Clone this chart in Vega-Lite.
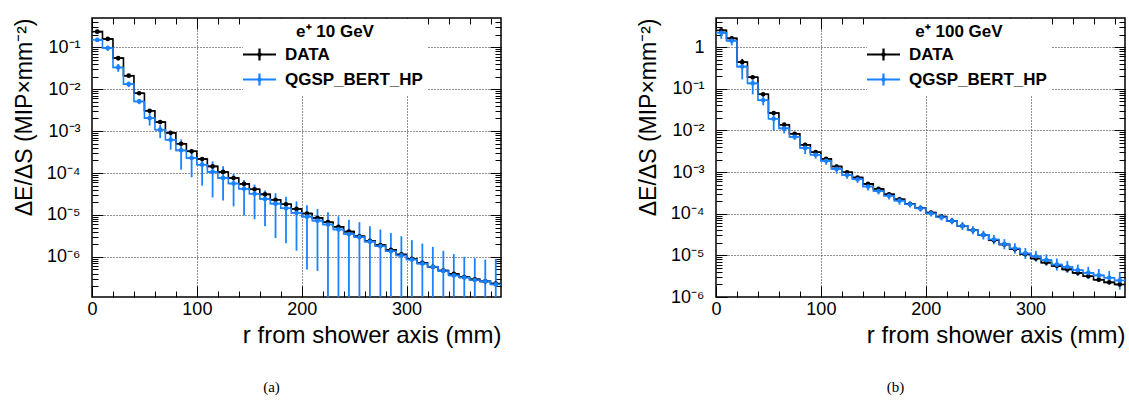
{
  "$schema": "https://vega.github.io/schema/vega-lite/v6.json",
  "padding": {"left": 12, "top": 12, "right": 0, "bottom": 0},
  "background": "white",
  "datasets": {
    "a": [
      {"s":"DATA","r":5,"r0":0,"r1":10,"v":0.236,"lo":0.218,"hi":0.254},
      {"s":"DATA","r":15,"r0":10,"r1":20,"v":0.158,"lo":0.147,"hi":0.169},
      {"s":"DATA","r":25,"r0":20,"r1":30,"v":0.055,"lo":0.049,"hi":0.061},
      {"s":"DATA","r":35,"r0":30,"r1":40,"v":0.021,"lo":0.0194,"hi":0.0226},
      {"s":"DATA","r":45,"r0":40,"r1":50,"v":0.008,"lo":0.0074,"hi":0.0086},
      {"s":"DATA","r":55,"r0":50,"r1":60,"v":0.00305,"lo":0.0028,"hi":0.0033},
      {"s":"DATA","r":65,"r0":60,"r1":70,"v":0.00164,"lo":0.00148,"hi":0.0018},
      {"s":"DATA","r":75,"r0":70,"r1":80,"v":0.00091,"lo":0.00084,"hi":0.00098},
      {"s":"DATA","r":85,"r0":80,"r1":90,"v":0.0005,"lo":0.00046,"hi":0.00054},
      {"s":"DATA","r":95,"r0":90,"r1":100,"v":0.00033,"lo":0.000305,"hi":0.000355},
      {"s":"DATA","r":105,"r0":100,"r1":110,"v":0.000215,"lo":0.0002,"hi":0.00023},
      {"s":"DATA","r":115,"r0":110,"r1":120,"v":0.000144,"lo":0.000134,"hi":0.000154},
      {"s":"DATA","r":125,"r0":120,"r1":130,"v":0.000106,"lo":0.000099,"hi":0.000113},
      {"s":"DATA","r":135,"r0":130,"r1":140,"v":7.6e-5,"lo":7.1e-5,"hi":8.1e-5},
      {"s":"DATA","r":145,"r0":140,"r1":150,"v":5.5e-5,"lo":5.15e-5,"hi":5.85e-5},
      {"s":"DATA","r":155,"r0":150,"r1":160,"v":4.1e-5,"lo":3.85e-5,"hi":4.35e-5},
      {"s":"DATA","r":165,"r0":160,"r1":170,"v":3.1e-5,"lo":2.9e-5,"hi":3.3e-5},
      {"s":"DATA","r":175,"r0":170,"r1":180,"v":2.3e-5,"lo":2.15e-5,"hi":2.45e-5},
      {"s":"DATA","r":185,"r0":180,"r1":190,"v":1.8e-5,"lo":1.69e-5,"hi":1.91e-5},
      {"s":"DATA","r":195,"r0":190,"r1":200,"v":1.39e-5,"lo":1.31e-5,"hi":1.47e-5},
      {"s":"DATA","r":205,"r0":200,"r1":210,"v":1.08e-5,"lo":1.02e-5,"hi":1.14e-5},
      {"s":"DATA","r":215,"r0":210,"r1":220,"v":8.5e-6,"lo":8.0e-6,"hi":9.0e-6},
      {"s":"DATA","r":225,"r0":220,"r1":230,"v":6.7e-6,"lo":6.3e-6,"hi":7.1e-6},
      {"s":"DATA","r":235,"r0":230,"r1":240,"v":5.2e-6,"lo":4.9e-6,"hi":5.5e-6},
      {"s":"DATA","r":245,"r0":240,"r1":250,"v":4.0e-6,"lo":3.77e-6,"hi":4.23e-6},
      {"s":"DATA","r":255,"r0":250,"r1":260,"v":3.1e-6,"lo":2.92e-6,"hi":3.28e-6},
      {"s":"DATA","r":265,"r0":260,"r1":270,"v":2.4e-6,"lo":2.26e-6,"hi":2.54e-6},
      {"s":"DATA","r":275,"r0":270,"r1":280,"v":1.9e-6,"lo":1.79e-6,"hi":2.01e-6},
      {"s":"DATA","r":285,"r0":280,"r1":290,"v":1.47e-6,"lo":1.38e-6,"hi":1.56e-6},
      {"s":"DATA","r":295,"r0":290,"r1":300,"v":1.14e-6,"lo":1.07e-6,"hi":1.21e-6},
      {"s":"DATA","r":305,"r0":300,"r1":310,"v":8.9e-7,"lo":8.4e-7,"hi":9.4e-7},
      {"s":"DATA","r":315,"r0":310,"r1":320,"v":7.2e-7,"lo":6.8e-7,"hi":7.6e-7},
      {"s":"DATA","r":325,"r0":320,"r1":330,"v":5.8e-7,"lo":5.45e-7,"hi":6.15e-7},
      {"s":"DATA","r":335,"r0":330,"r1":340,"v":4.7e-7,"lo":4.4e-7,"hi":5.0e-7},
      {"s":"DATA","r":345,"r0":340,"r1":350,"v":3.9e-7,"lo":3.65e-7,"hi":4.15e-7},
      {"s":"DATA","r":355,"r0":350,"r1":360,"v":3.3e-7,"lo":3.1e-7,"hi":3.5e-7},
      {"s":"DATA","r":365,"r0":360,"r1":370,"v":2.9e-7,"lo":2.72e-7,"hi":3.08e-7},
      {"s":"DATA","r":375,"r0":370,"r1":380,"v":2.6e-7,"lo":2.44e-7,"hi":2.76e-7},
      {"s":"DATA","r":385,"r0":380,"r1":390,"v":2.3e-7,"lo":2.16e-7,"hi":2.44e-7},
      {"s":"QGSP_BERT_HP","r":5,"r0":0,"r1":10,"v":0.15,"lo":0.135,"hi":0.167},
      {"s":"QGSP_BERT_HP","r":15,"r0":10,"r1":20,"v":0.096,"lo":0.082,"hi":0.11},
      {"s":"QGSP_BERT_HP","r":25,"r0":20,"r1":30,"v":0.033,"lo":0.026,"hi":0.04},
      {"s":"QGSP_BERT_HP","r":35,"r0":30,"r1":40,"v":0.0132,"lo":0.0112,"hi":0.0152},
      {"s":"QGSP_BERT_HP","r":45,"r0":40,"r1":50,"v":0.0051,"lo":0.0044,"hi":0.0058},
      {"s":"QGSP_BERT_HP","r":55,"r0":50,"r1":60,"v":0.00204,"lo":0.00135,"hi":0.0029},
      {"s":"QGSP_BERT_HP","r":65,"r0":60,"r1":70,"v":0.00108,"lo":0.00068,"hi":0.0014},
      {"s":"QGSP_BERT_HP","r":75,"r0":70,"r1":80,"v":0.00062,"lo":0.00036,"hi":0.001},
      {"s":"QGSP_BERT_HP","r":85,"r0":80,"r1":90,"v":0.000347,"lo":0.00012,"hi":0.00063},
      {"s":"QGSP_BERT_HP","r":95,"r0":90,"r1":100,"v":0.000228,"lo":7.9e-5,"hi":0.00036},
      {"s":"QGSP_BERT_HP","r":105,"r0":100,"r1":110,"v":0.000158,"lo":5.0e-5,"hi":0.00023},
      {"s":"QGSP_BERT_HP","r":115,"r0":110,"r1":120,"v":0.000106,"lo":2.6e-5,"hi":0.00019},
      {"s":"QGSP_BERT_HP","r":125,"r0":120,"r1":130,"v":7.6e-5,"lo":2.2e-5,"hi":0.000145},
      {"s":"QGSP_BERT_HP","r":135,"r0":130,"r1":140,"v":5.6e-5,"lo":1.6e-5,"hi":9.5e-5},
      {"s":"QGSP_BERT_HP","r":145,"r0":140,"r1":150,"v":4.2e-5,"lo":9.7e-6,"hi":6.8e-5},
      {"s":"QGSP_BERT_HP","r":155,"r0":150,"r1":160,"v":3.2e-5,"lo":7.9e-6,"hi":5.3e-5},
      {"s":"QGSP_BERT_HP","r":165,"r0":160,"r1":170,"v":2.4e-5,"lo":5.4e-6,"hi":3.8e-5},
      {"s":"QGSP_BERT_HP","r":175,"r0":170,"r1":180,"v":1.86e-5,"lo":2.8e-6,"hi":3.3e-5},
      {"s":"QGSP_BERT_HP","r":185,"r0":180,"r1":190,"v":1.44e-5,"lo":2.1e-6,"hi":2.7e-5},
      {"s":"QGSP_BERT_HP","r":195,"r0":190,"r1":200,"v":1.12e-5,"lo":1.4e-6,"hi":2.1e-5},
      {"s":"QGSP_BERT_HP","r":205,"r0":200,"r1":210,"v":9.1e-6,"lo":5.0e-7,"hi":1.7e-5},
      {"s":"QGSP_BERT_HP","r":215,"r0":210,"r1":220,"v":7.3e-6,"lo":4.6e-7,"hi":1.39e-5},
      {"s":"QGSP_BERT_HP","r":225,"r0":220,"r1":230,"v":5.9e-6,"lo":1e-9,"hi":1.16e-5},
      {"s":"QGSP_BERT_HP","r":235,"r0":230,"r1":240,"v":4.5e-6,"lo":1e-9,"hi":9.3e-6},
      {"s":"QGSP_BERT_HP","r":245,"r0":240,"r1":250,"v":3.5e-6,"lo":1e-9,"hi":7.7e-6},
      {"s":"QGSP_BERT_HP","r":255,"r0":250,"r1":260,"v":2.95e-6,"lo":1e-9,"hi":6.7e-6},
      {"s":"QGSP_BERT_HP","r":265,"r0":260,"r1":270,"v":2.3e-6,"lo":1e-9,"hi":5.4e-6},
      {"s":"QGSP_BERT_HP","r":275,"r0":270,"r1":280,"v":1.8e-6,"lo":1e-9,"hi":4.5e-6},
      {"s":"QGSP_BERT_HP","r":285,"r0":280,"r1":290,"v":1.36e-6,"lo":1e-9,"hi":3.7e-6},
      {"s":"QGSP_BERT_HP","r":295,"r0":290,"r1":300,"v":1.08e-6,"lo":1e-9,"hi":3.1e-6},
      {"s":"QGSP_BERT_HP","r":305,"r0":300,"r1":310,"v":8.6e-7,"lo":1e-9,"hi":2.5e-6},
      {"s":"QGSP_BERT_HP","r":315,"r0":310,"r1":320,"v":6.9e-7,"lo":1e-9,"hi":2.07e-6},
      {"s":"QGSP_BERT_HP","r":325,"r0":320,"r1":330,"v":5.8e-7,"lo":1e-9,"hi":1.73e-6},
      {"s":"QGSP_BERT_HP","r":335,"r0":330,"r1":340,"v":4.6e-7,"lo":1e-9,"hi":1.39e-6},
      {"s":"QGSP_BERT_HP","r":345,"r0":340,"r1":350,"v":3.6e-7,"lo":1e-9,"hi":1.16e-6},
      {"s":"QGSP_BERT_HP","r":355,"r0":350,"r1":360,"v":3.2e-7,"lo":1e-9,"hi":1.0e-6},
      {"s":"QGSP_BERT_HP","r":365,"r0":360,"r1":370,"v":2.8e-7,"lo":1e-9,"hi":9.3e-7},
      {"s":"QGSP_BERT_HP","r":375,"r0":370,"r1":380,"v":2.6e-7,"lo":1e-9,"hi":8.6e-7},
      {"s":"QGSP_BERT_HP","r":385,"r0":380,"r1":390,"v":2.2e-7,"lo":1e-9,"hi":8.9e-7}
    ],
    "b": [
      {"s":"DATA","r":5,"r0":0,"r1":10,"v":2.52,"lo":2.4,"hi":2.65},
      {"s":"DATA","r":15,"r0":10,"r1":20,"v":1.62,"lo":1.52,"hi":1.72},
      {"s":"DATA","r":25,"r0":20,"r1":30,"v":0.435,"lo":0.36,"hi":0.52},
      {"s":"DATA","r":35,"r0":30,"r1":40,"v":0.189,"lo":0.172,"hi":0.207},
      {"s":"DATA","r":45,"r0":40,"r1":50,"v":0.0737,"lo":0.068,"hi":0.08},
      {"s":"DATA","r":55,"r0":50,"r1":60,"v":0.0262,"lo":0.0235,"hi":0.029},
      {"s":"DATA","r":65,"r0":60,"r1":70,"v":0.0137,"lo":0.0127,"hi":0.0148},
      {"s":"DATA","r":75,"r0":70,"r1":80,"v":0.0083,"lo":0.0077,"hi":0.0089},
      {"s":"DATA","r":85,"r0":80,"r1":90,"v":0.00452,"lo":0.0042,"hi":0.0049},
      {"s":"DATA","r":95,"r0":90,"r1":100,"v":0.003,"lo":0.0028,"hi":0.0032},
      {"s":"DATA","r":105,"r0":100,"r1":110,"v":0.00208,"lo":0.00195,"hi":0.00222},
      {"s":"DATA","r":115,"r0":110,"r1":120,"v":0.00136,"lo":0.00127,"hi":0.00145},
      {"s":"DATA","r":125,"r0":120,"r1":130,"v":0.00099,"lo":0.00093,"hi":0.00105},
      {"s":"DATA","r":135,"r0":130,"r1":140,"v":0.00074,"lo":0.000695,"hi":0.000785},
      {"s":"DATA","r":145,"r0":140,"r1":150,"v":0.00052,"lo":0.00049,"hi":0.00055},
      {"s":"DATA","r":155,"r0":150,"r1":160,"v":0.000393,"lo":0.00037,"hi":0.000416},
      {"s":"DATA","r":165,"r0":160,"r1":170,"v":0.000292,"lo":0.000275,"hi":0.000309},
      {"s":"DATA","r":175,"r0":170,"r1":180,"v":0.000221,"lo":0.000208,"hi":0.000234},
      {"s":"DATA","r":185,"r0":180,"r1":190,"v":0.000171,"lo":0.000161,"hi":0.000181},
      {"s":"DATA","r":195,"r0":190,"r1":200,"v":0.000135,"lo":0.000127,"hi":0.000143},
      {"s":"DATA","r":205,"r0":200,"r1":210,"v":0.000106,"lo":0.0001,"hi":0.000112},
      {"s":"DATA","r":215,"r0":210,"r1":220,"v":8.5e-5,"lo":8.0e-5,"hi":9.0e-5},
      {"s":"DATA","r":225,"r0":220,"r1":230,"v":6.7e-5,"lo":6.3e-5,"hi":7.1e-5},
      {"s":"DATA","r":235,"r0":230,"r1":240,"v":5.1e-5,"lo":4.8e-5,"hi":5.4e-5},
      {"s":"DATA","r":245,"r0":240,"r1":250,"v":4.0e-5,"lo":3.75e-5,"hi":4.25e-5},
      {"s":"DATA","r":255,"r0":250,"r1":260,"v":3.1e-5,"lo":2.9e-5,"hi":3.3e-5},
      {"s":"DATA","r":265,"r0":260,"r1":270,"v":2.3e-5,"lo":2.15e-5,"hi":2.45e-5},
      {"s":"DATA","r":275,"r0":270,"r1":280,"v":1.82e-5,"lo":1.7e-5,"hi":1.94e-5},
      {"s":"DATA","r":285,"r0":280,"r1":290,"v":1.41e-5,"lo":1.32e-5,"hi":1.5e-5},
      {"s":"DATA","r":295,"r0":290,"r1":300,"v":1.07e-5,"lo":1.0e-5,"hi":1.14e-5},
      {"s":"DATA","r":305,"r0":300,"r1":310,"v":8.4e-6,"lo":7.9e-6,"hi":8.9e-6},
      {"s":"DATA","r":315,"r0":310,"r1":320,"v":6.7e-6,"lo":6.3e-6,"hi":7.1e-6},
      {"s":"DATA","r":325,"r0":320,"r1":330,"v":5.6e-6,"lo":5.25e-6,"hi":5.95e-6},
      {"s":"DATA","r":335,"r0":330,"r1":340,"v":4.6e-6,"lo":4.3e-6,"hi":4.9e-6},
      {"s":"DATA","r":345,"r0":340,"r1":350,"v":3.8e-6,"lo":3.55e-6,"hi":4.05e-6},
      {"s":"DATA","r":355,"r0":350,"r1":360,"v":3.15e-6,"lo":2.95e-6,"hi":3.35e-6},
      {"s":"DATA","r":365,"r0":360,"r1":370,"v":2.6e-6,"lo":2.43e-6,"hi":2.77e-6},
      {"s":"DATA","r":375,"r0":370,"r1":380,"v":2.25e-6,"lo":2.1e-6,"hi":2.4e-6},
      {"s":"DATA","r":385,"r0":380,"r1":390,"v":2.0e-6,"lo":1.87e-6,"hi":2.13e-6},
      {"s":"QGSP_BERT_HP","r":5,"r0":0,"r1":10,"v":2.2,"lo":1.58,"hi":2.75},
      {"s":"QGSP_BERT_HP","r":15,"r0":10,"r1":20,"v":1.42,"lo":1.1,"hi":1.77},
      {"s":"QGSP_BERT_HP","r":25,"r0":20,"r1":30,"v":0.34,"lo":0.168,"hi":0.42},
      {"s":"QGSP_BERT_HP","r":35,"r0":30,"r1":40,"v":0.135,"lo":0.073,"hi":0.168},
      {"s":"QGSP_BERT_HP","r":45,"r0":40,"r1":50,"v":0.053,"lo":0.04,"hi":0.067},
      {"s":"QGSP_BERT_HP","r":55,"r0":50,"r1":60,"v":0.019,"lo":0.01,"hi":0.0266},
      {"s":"QGSP_BERT_HP","r":65,"r0":60,"r1":70,"v":0.0112,"lo":0.0085,"hi":0.0148},
      {"s":"QGSP_BERT_HP","r":75,"r0":70,"r1":80,"v":0.007,"lo":0.0059,"hi":0.0088},
      {"s":"QGSP_BERT_HP","r":85,"r0":80,"r1":90,"v":0.0038,"lo":0.0027,"hi":0.0051},
      {"s":"QGSP_BERT_HP","r":95,"r0":90,"r1":100,"v":0.0026,"lo":0.0021,"hi":0.0032},
      {"s":"QGSP_BERT_HP","r":105,"r0":100,"r1":110,"v":0.00186,"lo":0.0015,"hi":0.0023},
      {"s":"QGSP_BERT_HP","r":115,"r0":110,"r1":120,"v":0.00119,"lo":0.00092,"hi":0.00153},
      {"s":"QGSP_BERT_HP","r":125,"r0":120,"r1":130,"v":0.00085,"lo":0.00069,"hi":0.00105},
      {"s":"QGSP_BERT_HP","r":135,"r0":130,"r1":140,"v":0.00067,"lo":0.00055,"hi":0.00081},
      {"s":"QGSP_BERT_HP","r":145,"r0":140,"r1":150,"v":0.00045,"lo":0.00036,"hi":0.00056},
      {"s":"QGSP_BERT_HP","r":155,"r0":150,"r1":160,"v":0.00035,"lo":0.00029,"hi":0.00042},
      {"s":"QGSP_BERT_HP","r":165,"r0":160,"r1":170,"v":0.00027,"lo":0.00022,"hi":0.00033},
      {"s":"QGSP_BERT_HP","r":175,"r0":170,"r1":180,"v":0.000206,"lo":0.000165,"hi":0.000255},
      {"s":"QGSP_BERT_HP","r":185,"r0":180,"r1":190,"v":0.000168,"lo":0.00014,"hi":0.0002},
      {"s":"QGSP_BERT_HP","r":195,"r0":190,"r1":200,"v":0.000135,"lo":0.000112,"hi":0.000162},
      {"s":"QGSP_BERT_HP","r":205,"r0":200,"r1":210,"v":0.000102,"lo":8.6e-5,"hi":0.00012},
      {"s":"QGSP_BERT_HP","r":215,"r0":210,"r1":220,"v":8.2e-5,"lo":6.9e-5,"hi":9.7e-5},
      {"s":"QGSP_BERT_HP","r":225,"r0":220,"r1":230,"v":6.7e-5,"lo":5.6e-5,"hi":8.0e-5},
      {"s":"QGSP_BERT_HP","r":235,"r0":230,"r1":240,"v":5.1e-5,"lo":4.1e-5,"hi":6.3e-5},
      {"s":"QGSP_BERT_HP","r":245,"r0":240,"r1":250,"v":4.0e-5,"lo":3.2e-5,"hi":5.0e-5},
      {"s":"QGSP_BERT_HP","r":255,"r0":250,"r1":260,"v":3.1e-5,"lo":2.4e-5,"hi":3.9e-5},
      {"s":"QGSP_BERT_HP","r":265,"r0":260,"r1":270,"v":2.4e-5,"lo":1.85e-5,"hi":3.1e-5},
      {"s":"QGSP_BERT_HP","r":275,"r0":270,"r1":280,"v":1.86e-5,"lo":1.4e-5,"hi":2.45e-5},
      {"s":"QGSP_BERT_HP","r":285,"r0":280,"r1":290,"v":1.46e-5,"lo":1.1e-5,"hi":1.95e-5},
      {"s":"QGSP_BERT_HP","r":295,"r0":290,"r1":300,"v":1.11e-5,"lo":8.2e-6,"hi":1.5e-5},
      {"s":"QGSP_BERT_HP","r":305,"r0":300,"r1":310,"v":9.5e-6,"lo":7.0e-6,"hi":1.28e-5},
      {"s":"QGSP_BERT_HP","r":315,"r0":310,"r1":320,"v":7.7e-6,"lo":5.6e-6,"hi":1.05e-5},
      {"s":"QGSP_BERT_HP","r":325,"r0":320,"r1":330,"v":6.0e-6,"lo":4.3e-6,"hi":8.4e-6},
      {"s":"QGSP_BERT_HP","r":335,"r0":330,"r1":340,"v":5.3e-6,"lo":3.8e-6,"hi":7.3e-6},
      {"s":"QGSP_BERT_HP","r":345,"r0":340,"r1":350,"v":4.4e-6,"lo":3.2e-6,"hi":6.0e-6},
      {"s":"QGSP_BERT_HP","r":355,"r0":350,"r1":360,"v":3.8e-6,"lo":2.7e-6,"hi":5.3e-6},
      {"s":"QGSP_BERT_HP","r":365,"r0":360,"r1":370,"v":3.3e-6,"lo":2.3e-6,"hi":4.7e-6},
      {"s":"QGSP_BERT_HP","r":375,"r0":370,"r1":380,"v":2.9e-6,"lo":2.0e-6,"hi":4.2e-6},
      {"s":"QGSP_BERT_HP","r":385,"r0":380,"r1":390,"v":2.5e-6,"lo":1.5e-6,"hi":4.0e-6}
    ]
  },
  "spacing": 133,
  "resolve": {"scale": {"color": "independent", "x": "independent", "y": "independent"}, "legend": {"color": "independent"}},
  "hconcat": [
    {
      "width": 409, "height": 279,
      "data": {"name": "a"},
      "title": {"text": "(a)", "orient": "bottom", "anchor": "middle", "dx": -25, "offset": 33, "font": "Liberation Serif", "fontSize": 15, "fontWeight": "normal", "color": "black"},
      "encoding": {
        "color": {"field": "s", "type": "nominal",
          "scale": {"domain": ["DATA", "QGSP_BERT_HP"], "range": ["#000000", "#1a82ff"]},
          "legend": {"title": "e⁺ 10 GeV", "orient": "none", "legendX": 151, "legendY": 1, "fillColor": "white", "padding": 5,
            "titleFont": "Liberation Sans", "titleFontSize": 17, "titleFontWeight": "bold", "titleColor": "black", "titleAnchor": "middle", "titlePadding": 2,
            "labelFont": "Liberation Sans", "labelFontSize": 17, "labelFontWeight": "bold", "labelColor": "black", "labelOffset": 14,
            "symbolType": "M-1.65,0H1.65M0,-0.6V0.6M-0.11,0A0.11,0.11,0,1,0,0.11,0A0.11,0.11,0,1,0,-0.11,0", "symbolSize": 400, "symbolStrokeWidth": 2.2, "rowPadding": 3}}
      },
      "resolve": {"axis": {"x": "independent", "y": "independent"}},
      "layer": [
        {
          "mark": {"type": "rule", "strokeWidth": 1.6, "clip": true},
          "encoding": {
            "x": {"field": "r0", "type": "quantitative", "scale": {"domain": [0, 390], "nice": false, "zero": false},
              "axis": {"orient": "bottom", "values": [0,20,40,60,80,100,120,140,160,180,200,220,240,260,280,300,320,340,360,380],
                "labelExpr": "datum.value % 100 == 0 ? datum.label : ''", "labelFlush": false, "labelOverlap": false,
                "tickSize": {"condition": {"test": "datum.value % 100 == 0", "value": -11}, "value": -6},
                "grid": true, "gridOpacity": {"condition": {"test": "datum.value % 100 == 0 && datum.value > 0", "value": 1}, "value": 0},
                "labelPadding": 14, "title": "r from shower axis (mm)", "titleFontSize": 24, "titleAnchor": "end", "titlePadding": 0}},
            "x2": {"field": "r1"},
            "y": {"field": "v", "type": "quantitative", "scale": {"type": "log", "domain": [1.1e-7, 0.5], "nice": false},
              "axis": {"orient": "left", "values": [2e-7,3e-7,4e-7,5e-7,6e-7,7e-7,8e-7,9e-7,1e-6,2e-6,3e-6,4e-6,5e-6,6e-6,7e-6,8e-6,9e-6,1e-5,2e-5,3e-5,4e-5,5e-5,6e-5,7e-5,8e-5,9e-5,1e-4,2e-4,3e-4,4e-4,5e-4,6e-4,7e-4,8e-4,9e-4,1e-3,2e-3,3e-3,4e-3,5e-3,6e-3,7e-3,8e-3,9e-3,1e-2,2e-2,3e-2,4e-2,5e-2,6e-2,7e-2,8e-2,9e-2,1e-1,2e-1,3e-1,4e-1],
                "labelExpr": "abs(log(datum.value)/LN10 - round(log(datum.value)/LN10)) < 0.01 ? (round(log(datum.value)/LN10) == 0 ? '1' : '10⁻' + substring('¹²³⁴⁵⁶⁷⁸⁹', -round(log(datum.value)/LN10) - 1, -round(log(datum.value)/LN10))) : ''",
                "labelOverlap": false,
                "tickSize": {"condition": {"test": "abs(log(datum.value)/LN10 - round(log(datum.value)/LN10)) < 0.01", "value": -11}, "value": -6},
                "grid": true, "gridOpacity": {"condition": {"test": "abs(log(datum.value)/LN10 - round(log(datum.value)/LN10)) < 0.01", "value": 1}, "value": 0},
                "labelPadding": 23, "title": "ΔE/ΔS (MIP×mm⁻²)", "titleFontSize": 23, "titleAnchor": "end", "titlePadding": 10}}
          }
        },
        {
          "mark": {"type": "line", "interpolate": "step", "strokeWidth": 1.6, "clip": true},
          "encoding": {
            "x": {"field": "r", "type": "quantitative", "scale": {"domain": [0, 390], "nice": false, "zero": false},
              "axis": {"orient": "top", "values": [0,20,40,60,80,100,120,140,160,180,200,220,240,260,280,300,320,340,360,380], "labels": false, "grid": false, "title": null,
                "tickSize": {"condition": {"test": "datum.value % 100 == 0", "value": -11}, "value": -6}}},
            "y": {"field": "v", "type": "quantitative", "scale": {"type": "log", "domain": [1.1e-7, 0.5], "nice": false},
              "axis": {"orient": "right", "values": [2e-7,3e-7,4e-7,5e-7,6e-7,7e-7,8e-7,9e-7,1e-6,2e-6,3e-6,4e-6,5e-6,6e-6,7e-6,8e-6,9e-6,1e-5,2e-5,3e-5,4e-5,5e-5,6e-5,7e-5,8e-5,9e-5,1e-4,2e-4,3e-4,4e-4,5e-4,6e-4,7e-4,8e-4,9e-4,1e-3,2e-3,3e-3,4e-3,5e-3,6e-3,7e-3,8e-3,9e-3,1e-2,2e-2,3e-2,4e-2,5e-2,6e-2,7e-2,8e-2,9e-2,1e-1,2e-1,3e-1,4e-1], "labels": false, "grid": false, "title": null,
                "tickSize": {"condition": {"test": "abs(log(datum.value)/LN10 - round(log(datum.value)/LN10)) < 0.01", "value": -11}, "value": -6}}}
          }
        },
        {
          "mark": {"type": "rule", "strokeWidth": 1.8, "clip": true},
          "encoding": {
            "x": {"field": "r", "type": "quantitative", "scale": {"domain": [0, 390], "nice": false, "zero": false}, "axis": null},
            "y": {"field": "lo", "type": "quantitative", "scale": {"type": "log", "domain": [1.1e-7, 0.5], "nice": false}, "axis": null},
            "y2": {"field": "hi"}
          }
        },
        {
          "mark": {"type": "point", "filled": true, "shape": "circle", "size": 22, "opacity": 1, "clip": true},
          "encoding": {
            "x": {"field": "r", "type": "quantitative", "scale": {"domain": [0, 390], "nice": false, "zero": false}, "axis": null},
            "y": {"field": "v", "type": "quantitative", "scale": {"type": "log", "domain": [1.1e-7, 0.5], "nice": false}, "axis": null}
          }
        }
      ]
    },
    {
      "width": 409, "height": 279,
      "data": {"name": "b"},
      "title": {"text": "(b)", "orient": "bottom", "anchor": "middle", "dx": -25, "offset": 33, "font": "Liberation Serif", "fontSize": 15, "fontWeight": "normal", "color": "black"},
      "encoding": {
        "color": {"field": "s", "type": "nominal",
          "scale": {"domain": ["DATA", "QGSP_BERT_HP"], "range": ["#000000", "#1a82ff"]},
          "legend": {"title": "e⁺ 100 GeV", "orient": "none", "legendX": 151, "legendY": 1, "fillColor": "white", "padding": 5,
            "titleFont": "Liberation Sans", "titleFontSize": 17, "titleFontWeight": "bold", "titleColor": "black", "titleAnchor": "middle", "titlePadding": 2,
            "labelFont": "Liberation Sans", "labelFontSize": 17, "labelFontWeight": "bold", "labelColor": "black", "labelOffset": 14,
            "symbolType": "M-1.65,0H1.65M0,-0.6V0.6M-0.11,0A0.11,0.11,0,1,0,0.11,0A0.11,0.11,0,1,0,-0.11,0", "symbolSize": 400, "symbolStrokeWidth": 2.2, "rowPadding": 3}}
      },
      "resolve": {"axis": {"x": "independent", "y": "independent"}},
      "layer": [
        {
          "mark": {"type": "rule", "strokeWidth": 1.6, "clip": true},
          "encoding": {
            "x": {"field": "r0", "type": "quantitative", "scale": {"domain": [0, 390], "nice": false, "zero": false},
              "axis": {"orient": "bottom", "values": [0,20,40,60,80,100,120,140,160,180,200,220,240,260,280,300,320,340,360,380],
                "labelExpr": "datum.value % 100 == 0 ? datum.label : ''", "labelFlush": false, "labelOverlap": false,
                "tickSize": {"condition": {"test": "datum.value % 100 == 0", "value": -11}, "value": -6},
                "grid": true, "gridOpacity": {"condition": {"test": "datum.value % 100 == 0 && datum.value > 0", "value": 1}, "value": 0},
                "labelPadding": 14, "title": "r from shower axis (mm)", "titleFontSize": 24, "titleAnchor": "end", "titlePadding": 0}},
            "x2": {"field": "r1"},
            "y": {"field": "v", "type": "quantitative", "scale": {"type": "log", "domain": [1e-6, 5], "nice": false},
              "axis": {"orient": "left", "values": [1e-6,2e-6,3e-6,4e-6,5e-6,6e-6,7e-6,8e-6,9e-6,1e-5,2e-5,3e-5,4e-5,5e-5,6e-5,7e-5,8e-5,9e-5,1e-4,2e-4,3e-4,4e-4,5e-4,6e-4,7e-4,8e-4,9e-4,1e-3,2e-3,3e-3,4e-3,5e-3,6e-3,7e-3,8e-3,9e-3,1e-2,2e-2,3e-2,4e-2,5e-2,6e-2,7e-2,8e-2,9e-2,1e-1,2e-1,3e-1,4e-1,5e-1,6e-1,7e-1,8e-1,9e-1,1,2,3,4],
                "labelExpr": "abs(log(datum.value)/LN10 - round(log(datum.value)/LN10)) < 0.01 ? (round(log(datum.value)/LN10) == 0 ? '1' : '10⁻' + substring('¹²³⁴⁵⁶⁷⁸⁹', -round(log(datum.value)/LN10) - 1, -round(log(datum.value)/LN10))) : ''",
                "labelOverlap": false,
                "tickSize": {"condition": {"test": "abs(log(datum.value)/LN10 - round(log(datum.value)/LN10)) < 0.01", "value": -11}, "value": -6},
                "grid": true, "gridOpacity": {"condition": {"test": "abs(log(datum.value)/LN10 - round(log(datum.value)/LN10)) < 0.01 && datum.value > 1.5e-6", "value": 1}, "value": 0},
                "labelPadding": 23, "title": "ΔE/ΔS (MIP×mm⁻²)", "titleFontSize": 23, "titleAnchor": "end", "titlePadding": 10}}
          }
        },
        {
          "mark": {"type": "line", "interpolate": "step", "strokeWidth": 1.6, "clip": true},
          "encoding": {
            "x": {"field": "r", "type": "quantitative", "scale": {"domain": [0, 390], "nice": false, "zero": false},
              "axis": {"orient": "top", "values": [0,20,40,60,80,100,120,140,160,180,200,220,240,260,280,300,320,340,360,380], "labels": false, "grid": false, "title": null,
                "tickSize": {"condition": {"test": "datum.value % 100 == 0", "value": -11}, "value": -6}}},
            "y": {"field": "v", "type": "quantitative", "scale": {"type": "log", "domain": [1e-6, 5], "nice": false},
              "axis": {"orient": "right", "values": [1e-6,2e-6,3e-6,4e-6,5e-6,6e-6,7e-6,8e-6,9e-6,1e-5,2e-5,3e-5,4e-5,5e-5,6e-5,7e-5,8e-5,9e-5,1e-4,2e-4,3e-4,4e-4,5e-4,6e-4,7e-4,8e-4,9e-4,1e-3,2e-3,3e-3,4e-3,5e-3,6e-3,7e-3,8e-3,9e-3,1e-2,2e-2,3e-2,4e-2,5e-2,6e-2,7e-2,8e-2,9e-2,1e-1,2e-1,3e-1,4e-1,5e-1,6e-1,7e-1,8e-1,9e-1,1,2,3,4], "labels": false, "grid": false, "title": null,
                "tickSize": {"condition": {"test": "abs(log(datum.value)/LN10 - round(log(datum.value)/LN10)) < 0.01", "value": -11}, "value": -6}}}
          }
        },
        {
          "mark": {"type": "rule", "strokeWidth": 1.8, "clip": true},
          "encoding": {
            "x": {"field": "r", "type": "quantitative", "scale": {"domain": [0, 390], "nice": false, "zero": false}, "axis": null},
            "y": {"field": "lo", "type": "quantitative", "scale": {"type": "log", "domain": [1e-6, 5], "nice": false}, "axis": null},
            "y2": {"field": "hi"}
          }
        },
        {
          "mark": {"type": "point", "filled": true, "shape": "circle", "size": 22, "opacity": 1, "clip": true},
          "encoding": {
            "x": {"field": "r", "type": "quantitative", "scale": {"domain": [0, 390], "nice": false, "zero": false}, "axis": null},
            "y": {"field": "v", "type": "quantitative", "scale": {"type": "log", "domain": [1e-6, 5], "nice": false}, "axis": null}
          }
        }
      ]
    }
  ],
  "config": {
    "view": {"stroke": "black", "strokeWidth": 1.5},
    "font": "Liberation Sans",
    "axis": {"domain": false, "tickColor": "black", "tickWidth": 1, "labelFont": "Liberation Sans", "labelFontSize": 18, "labelColor": "black",
      "titleFont": "Liberation Sans", "titleFontSize": 22, "titleFontWeight": "normal", "titleColor": "black",
      "gridColor": "#222222", "gridDash": [1, 2], "gridWidth": 1}
  }
}
